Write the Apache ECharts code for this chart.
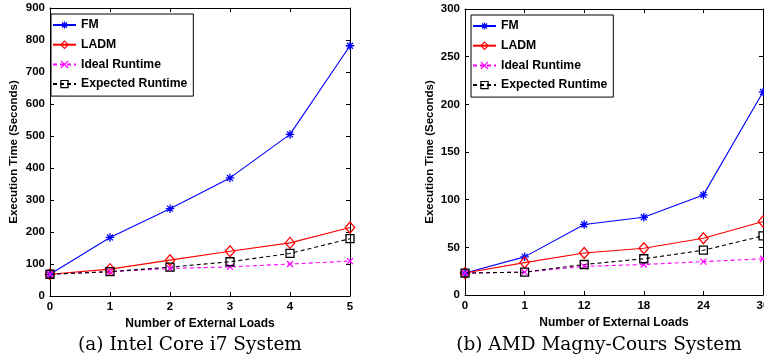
<!DOCTYPE html>
<html>
<head>
<meta charset="utf-8">
<script src="https://cdn.jsdelivr.net/npm/echarts@6/dist/echarts.min.js"></script>
<style>html,body{margin:0;padding:0;background:#fff}#c{width:764px;height:362px}</style>
</head>
<body>
<div id="c"></div>
<script>
// ---- data ----
const seriesNames = ['FM', 'LADM', 'Ideal Runtime', 'Expected Runtime'];
const catsA = ['0', '1', '2', '3', '4', '5'];
const fmA = [68, 183, 273, 369, 505, 782];
const ladmA = [68, 84, 112, 140, 166, 214];
const idealA = [68, 76, 86, 91, 100, 109];
const expectedA = [68, 76, 90, 107, 133, 179];
const yTicksA = {min: 0, max: 900, interval: 100};

const catsB = ['0', '1', '12', '18', '24', '30'];
const fmB = [23, 40, 74, 81.5, 105, 213];
const ladmB = [23, 34, 44, 49, 59.5, 77];
const idealB = [23, 24, 30, 32, 35, 38];
const expectedB = [23, 24, 32, 38, 47, 62];
const yTicksB = {min: 0, max: 300, interval: 50};

const captionA = '(a) Intel Core i7 System';
const captionB = '(b) AMD Magny-Cours System';
const xName = 'Number of External Loads';
const yName = 'Execution Time (Seconds)';

// ---- styling ----
const FONT = 'Liberation Sans';
const lab = {color: '#000', fontFamily: FONT, fontWeight: 'bold', fontSize: 11.5};
const axisLine = {show: true, onZero: false, lineStyle: {color: '#000', width: 1}};
const tickIn = {show: true, inside: true, length: 4, lineStyle: {color: '#000'}};

const star = 'path://M5,0L5,10M0,5L10,5M1.5,1.5L8.5,8.5M1.5,8.5L8.5,1.5';
const cross = 'path://M0,0L10,10M0,10L10,0';
const square = 'path://M0,0L10,0L10,10L0,10Z';

const styles = [
  {color: '#0000ff', type: 'solid', symbol: star, size: 8.5},
  {color: '#ff0000', type: 'solid', symbol: 'diamond', size: [9.5, 11]},
  {color: '#ff00ff', type: [4, 3], symbol: cross, size: 6},
  {color: '#000000', type: [4, 3], symbol: square, size: 8}
];

function mkSeries(vals, xi, yi) {
  return vals.map((d, i) => ({
    name: seriesNames[i],
    type: 'line',
    xAxisIndex: xi, yAxisIndex: yi,
    data: d,
    clip: false,
    symbol: styles[i].symbol,
    symbolSize: styles[i].size,
    showAllSymbol: true,
    lineStyle: {color: styles[i].color, width: 1.1, type: styles[i].type},
    itemStyle: {color: 'rgba(0,0,0,0)', borderColor: styles[i].color, borderWidth: 1.3},
    emphasis: {disabled: true},
    animation: false
  }));
}

function mkX(gi, cats) {
  const main = {
    gridIndex: gi, type: 'category', data: cats, boundaryGap: false, position: 'bottom',
    axisLine, axisTick: tickIn, axisLabel: Object.assign({margin: 5}, lab),
    splitLine: {show: false},
    name: xName, nameLocation: 'middle', nameGap: 18,
    nameTextStyle: Object.assign({}, lab, {fontSize: 12})
  };
  const top = {
    gridIndex: gi, type: 'category', data: cats, boundaryGap: false, position: 'top',
    axisLine, axisTick: tickIn, axisLabel: {show: false}, splitLine: {show: false}
  };
  return [main, top];
}
function mkY(gi, t, nameGap) {
  const main = Object.assign({
    gridIndex: gi, type: 'value', position: 'left',
    axisLine, axisTick: tickIn, axisLabel: Object.assign({margin: 5}, lab),
    splitLine: {show: false},
    name: yName, nameLocation: 'middle', nameGap: nameGap,
    nameTextStyle: Object.assign({}, lab, {fontSize: 11.5})
  }, t);
  const right = Object.assign({
    gridIndex: gi, type: 'value', position: 'right',
    axisLine, axisTick: tickIn, axisLabel: {show: false}, splitLine: {show: false}
  }, t);
  return [main, right];
}

function mkLegend(left, top) {
  return {
    left: left, top: top, orient: 'vertical',
    data: seriesNames.map((n, i) => ({
      name: n,
      itemStyle: {color: 'rgba(0,0,0,0)', borderColor: styles[i].color, borderWidth: 1.2}
    })),
    itemWidth: 23, itemHeight: 9, itemGap: 5.7,
    padding: [4, 6, 5, 1],
    borderColor: '#000', borderWidth: 1, backgroundColor: '#fff',
    textStyle: Object.assign({}, lab, {fontSize: 12.2, lineHeight: 14}),
    selectedMode: false
  };
}

const capStyle = {fontFamily: 'DejaVu Serif', fontWeight: 'normal', fontSize: 18.5, color: '#000'};

const chart = echarts.init(document.getElementById('c'), null, {renderer: 'canvas'});
chart.setOption({
  animation: false,
  backgroundColor: '#fff',
  grid: [
    {left: 50, top: 8, width: 300, height: 288, outerBoundsMode: 'none', containLabel: false},
    {left: 465, top: 9, width: 298, height: 286, outerBoundsMode: 'none', containLabel: false}
  ],
  xAxis: [...mkX(0, catsA), ...mkX(1, catsB)],
  yAxis: [...mkY(0, yTicksA, 30), ...mkY(1, yTicksB, 29)],
  legend: [mkLegend(51, 14), mkLegend(471, 15)],
  title: [
    {text: captionA, left: 190, top: 336, textAlign: 'center', padding: 0, textStyle: capStyle},
    {text: captionB, left: 599, top: 336, textAlign: 'center', padding: 0, textStyle: capStyle}
  ],
  series: [
    ...mkSeries([fmA, ladmA, idealA, expectedA], 0, 0),
    ...mkSeries([fmB, ladmB, idealB, expectedB], 2, 2)
  ]
});
</script>
</body>
</html>
